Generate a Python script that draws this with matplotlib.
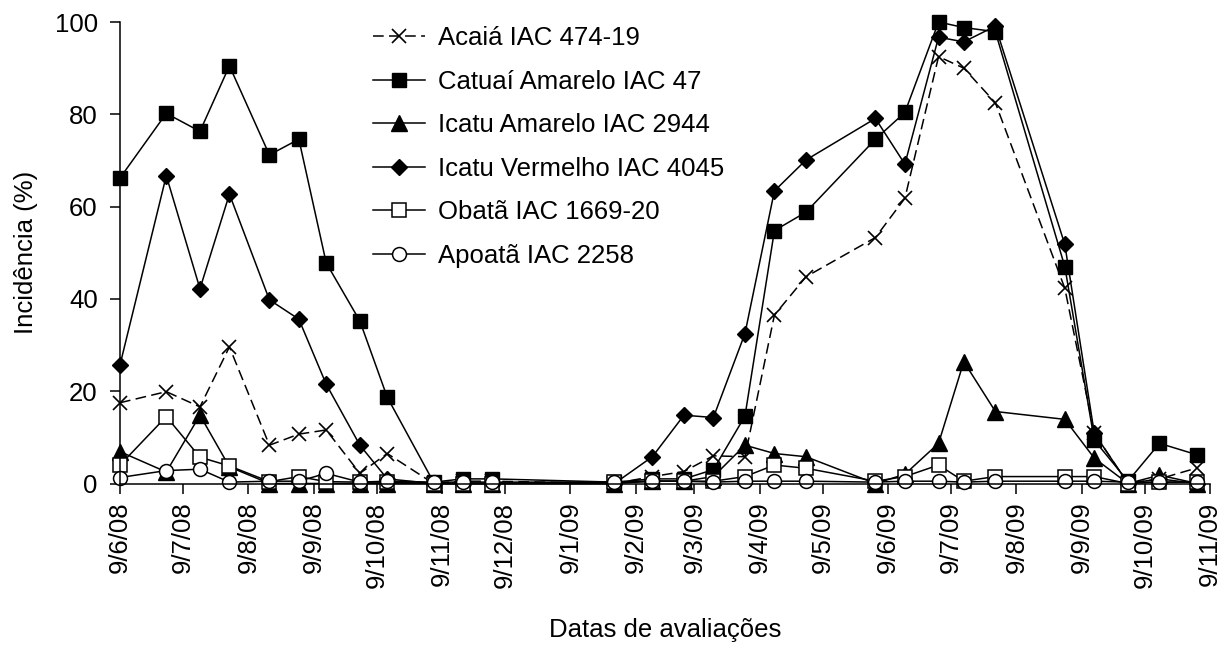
import matplotlib
matplotlib.use("Agg")
import matplotlib.pyplot as plt
import numpy as np
from datetime import datetime

plt.rcParams['font.family'] = ['Liberation Sans', 'DejaVu Sans']

# datas de avaliação
datas = ["2008-06-09", "2008-07-01", "2008-07-17", "2008-07-31", "2008-08-19",
         "2008-09-02", "2008-09-15", "2008-10-01", "2008-10-14", "2008-11-05",
         "2008-11-19", "2008-12-03",
         "2009-01-30", "2009-02-17", "2009-03-04", "2009-03-18", "2009-04-02",
         "2009-04-16", "2009-05-01", "2009-06-03", "2009-06-17", "2009-07-03",
         "2009-07-15", "2009-07-30", "2009-09-01", "2009-09-15", "2009-10-01",
         "2009-10-16", "2009-11-03"]

acaia = [17.5, 19.9, 16.6, 29.6, 8.3, 10.7, 11.6, 2.2, 6.5, 0.0, 0.5, 0.5,
         0.0, 1.5, 2.6, 6.0, 5.8, 36.5, 44.8, 53.3, 61.8, 92.5, 90.0, 82.5,
         42.3, 10.9, 0.0, 1.0, 3.4]
catuai = [66.2, 80.2, 76.3, 90.5, 71.2, 74.6, 47.8, 35.2, 18.7, 0.3, 1.0, 1.0,
          0.3, 1.0, 1.0, 3.0, 14.6, 54.8, 58.8, 74.6, 80.4, 100.0, 98.8, 97.9,
          47.0, 9.4, 0.5, 8.7, 6.2]
icatu_am = [6.9, 2.5, 14.8, 3.6, 0.0, 0.0, 0.0, 0.0, 0.0, 0.0, 0.0, 0.0,
            0.0, 0.5, 0.5, 1.5, 8.3, 6.5, 5.8, 0.0, 2.0, 8.7, 26.4, 15.6,
            13.9, 5.5, 0.0, 1.8, 0.0]
icatu_verm = [25.7, 66.7, 42.2, 62.7, 39.8, 35.6, 21.5, 8.3, 1.0, 0.0, 0.0, 0.0,
              0.0, 5.8, 14.8, 14.3, 32.5, 63.4, 70.1, 79.1, 69.2, 96.7, 95.7, 99.1,
              51.8, 10.9, 0.0, 1.0, 0.0]
obata = [4.0, 14.5, 5.7, 3.8, 0.4, 1.5, 0.4, 0.3, 0.3, 0.0, 0.0, 0.0,
         0.3, 0.5, 0.5, 0.5, 1.5, 4.0, 3.3, 0.5, 1.5, 4.0, 0.5, 1.5,
         1.5, 1.5, 0.0, 0.3, 0.3]
apoata = [1.3, 2.8, 3.1, 0.3, 0.5, 0.5, 2.2, 0.3, 0.5, 0.3, 0.3, 0.3,
          0.3, 0.5, 0.5, 0.3, 0.5, 0.5, 0.5, 0.3, 0.5, 0.5, 0.3, 0.5,
          0.5, 0.5, 0.3, 0.3, 0.3]

nomes = ["Acaiá IAC 474-19", "Catuaí Amarelo IAC 47", "Icatu Amarelo IAC 2944",
         "Icatu Vermelho IAC 4045", "Obatã IAC 1669-20", "Apoatã IAC 2258"]

tick_datas = ["2008-06-09", "2008-07-09", "2008-08-09", "2008-09-09", "2008-10-09",
              "2008-11-09", "2008-12-09", "2009-01-09", "2009-02-09", "2009-03-09",
              "2009-04-09", "2009-05-09", "2009-06-09", "2009-07-09", "2009-08-09",
              "2009-09-09", "2009-10-09", "2009-11-09"]
tick_labels = ["9/6/08", "9/7/08", "9/8/08", "9/9/08", "9/10/08", "9/11/08",
               "9/12/08", "9/1/09", "9/2/09", "9/3/09", "9/4/09", "9/5/09",
               "9/6/09", "9/7/09", "9/8/09", "9/9/09", "9/10/09", "9/11/09"]

x = [datetime.strptime(d, "%Y-%m-%d") for d in datas]
xt = [datetime.strptime(d, "%Y-%m-%d") for d in tick_datas]

fig = plt.figure(figsize=(12.28, 6.56), dpi=100)
ax = fig.add_axes([120/1228, 1-483.5/656, 1090/1228, 461.5/656])

lw = 1.1
estilos = [
    dict(marker='x', ms=9.5, mfc='black', mec='black', mew=1.2, ls=(0, (7, 3.5))),
    dict(marker='s', ms=10.5, mfc='black', mec='black', ls='-'),
    dict(marker='^', ms=11, mfc='black', mec='black', ls='-'),
    dict(marker='D', ms=8.5, mfc='black', mec='black', ls='-'),
    dict(marker='s', ms=10.5, mfc='white', mec='black', mew=1.1, ls='-'),
    dict(marker='o', ms=10, mfc='white', mec='black', mew=1.1, ls='-'),
]
series = [acaia, catuai, icatu_am, icatu_verm, obata, apoata]
for ys, nome, st in zip(series, nomes, estilos):
    ax.plot(x, ys, color='black', lw=lw, label=nome, clip_on=False, **st)

ax.set_xlim(xt[0], xt[-1])
ax.set_ylim(0, 100)
ax.set_yticks([0, 20, 40, 60, 80, 100])
ax.set_xticks(xt)
ax.set_xticklabels(tick_labels, rotation=90)
ax.tick_params(axis='both', labelsize=18.5, direction='out', length=7, width=1.1, color='black')
ax.tick_params(axis='x', pad=6)
ax.tick_params(axis='y', pad=9)

for s in ['top', 'right']:
    ax.spines[s].set_visible(False)
for s in ['left', 'bottom']:
    ax.spines[s].set_linewidth(1.1)

ax.set_ylabel("Incidência (%)", fontsize=18.5, labelpad=12)
ax.set_xlabel("Datas de avaliações", fontsize=18.5, labelpad=22)

leg = ax.legend(loc='upper left', bbox_to_anchor=(243/1090, 1.013), frameon=False,
                fontsize=18.5, handlelength=2.0, handletextpad=0.5, labelspacing=0.76,
                borderaxespad=0)

fig.savefig("out.png", dpi=100)
